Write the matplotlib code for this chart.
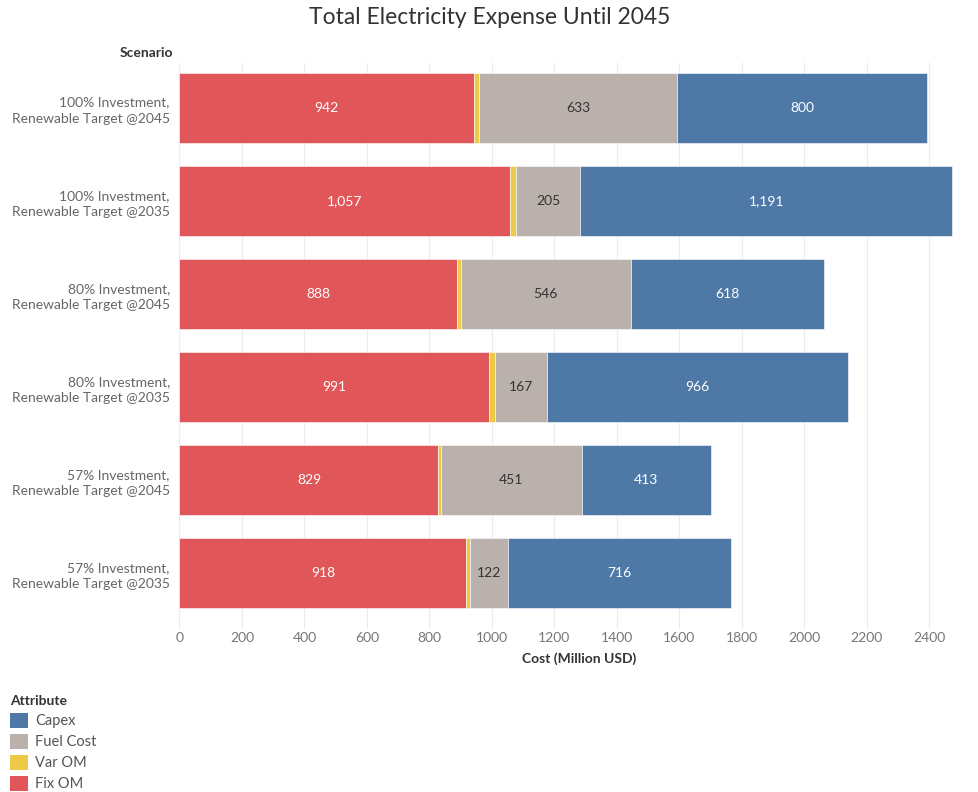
import matplotlib.pyplot as plt
from matplotlib.patches import Patch

plt.rcParams['font.family'] = ['Lato', 'DejaVu Sans']

scenarios = ['100% Investment,\nRenewable Target @2045',
             '100% Investment,\nRenewable Target @2035',
             '80% Investment,\nRenewable Target @2045',
             '80% Investment,\nRenewable Target @2035',
             '57% Investment,\nRenewable Target @2045',
             '57% Investment,\nRenewable Target @2035']
fix_om = [942, 1057, 888, 991, 829, 918]
var_om = [18, 22, 12, 18, 8, 11]
fuel_cost = [633, 205, 546, 167, 451, 122]
capex = [800, 1191, 618, 966, 413, 716]

# stacking order left to right
series = [('Fix OM', fix_om, '#E15759', 'white'),
          ('Var OM', var_om, '#EDC948', None),
          ('Fuel Cost', fuel_cost, '#BAB0AC', '#333333'),
          ('Capex', capex, '#4E79A7', 'white')]

fig = plt.figure(figsize=(9.79, 7.92), dpi=100)
ax = fig.add_axes([179.5 / 979, 1 - 622 / 792, 1 - 179.5 / 979, (622 - 63) / 792])

ypos = list(range(len(scenarios)))
left = [0] * len(scenarios)
for name, vals, color, txtcolor in series:
    ax.barh(ypos, vals, left=left, height=0.75, color=color,
            edgecolor='white', linewidth=0.4, zorder=3)
    if txtcolor:
        for y, l, v in zip(ypos, left, vals):
            ax.text(l + v / 2, y, f'{v:,}', ha='center', va='center',
                    color=txtcolor, fontsize=10, zorder=4)
    left = [l + v for l, v in zip(left, vals)]

ax.set_xlim(0, 2560)
ax.set_ylim(5.53, -0.48)
ax.set_xticks(range(0, 2401, 200))
ax.set_yticks(ypos)
ax.set_yticklabels(scenarios, fontsize=10, color='#666666', linespacing=1.4)
ax.tick_params(axis='y', length=0, pad=7)
ax.tick_params(axis='x', length=4, color='#e6e6e6', labelcolor='#777777',
               labelsize=10, pad=3)
for s in ax.spines.values():
    s.set_visible(False)
ax.grid(axis='x', color='#ececec', linewidth=0.9, zorder=0)
ax.set_axisbelow(True)
ax.set_xlabel('Cost (Million USD)', fontsize=10, fontweight='bold',
              color='#333333', labelpad=6)

fig.text(173 / 979, 1 - 53 / 792, 'Scenario', ha='right', va='center',
         fontsize=10, fontweight='bold', color='#333333')
fig.text(0.5, 1 - 17 / 792, 'Total Electricity Expense Until 2045', ha='center',
         va='center', fontsize=16.5, color='#333333')

handles = [Patch(facecolor=c, edgecolor='none', label=n)
           for n, _, c, _ in reversed(series)]
leg = fig.legend(handles=handles, title='Attribute', loc='upper left',
                 bbox_to_anchor=(0.0, 1 - 685 / 792), frameon=False,
                 fontsize=10.5, handlelength=1.2, handleheight=1.2,
                 handletextpad=0.5, labelspacing=0.38, borderaxespad=0.3)
leg.get_title().set_fontweight('bold')
leg.get_title().set_fontsize(10)
leg.get_title().set_color('#333333')
leg._legend_box.align = 'left'
for t in leg.get_texts():
    t.set_color('#555555')

fig.savefig('out.png', dpi=100)
